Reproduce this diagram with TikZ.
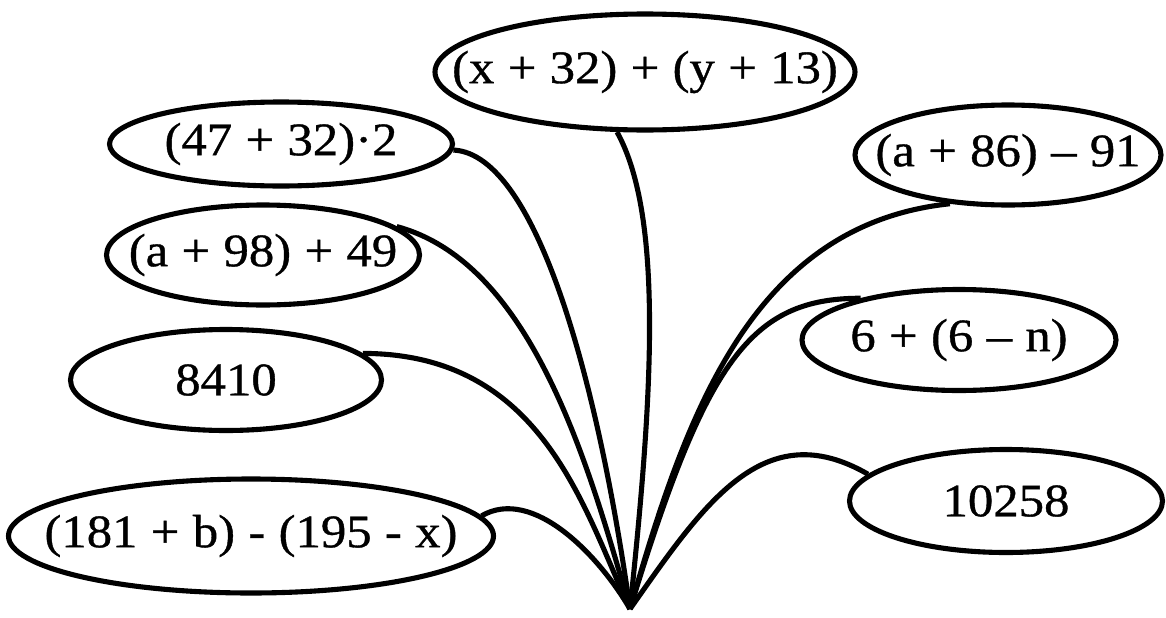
\documentclass[tikz,border=0pt]{standalone}
\usepackage{fontspec}
\setmainfont{Liberation Serif}[FakeStretch=1.09, WordSpace=1.05, FakeBold=0.8]
\usepackage{tikz}
\usetikzlibrary{shapes.geometric}

% text is allowed to run over the oval, as in the drawing
\newcommand{\ovtxt}[1]{\hbox to 0pt{\hss#1\hss}}

\begin{document}
\begin{tikzpicture}[
  font=\fontsize{26.5}{30}\selectfont,
  oval/.style={ellipse, draw, line width=2.9pt, inner sep=0pt},
  link/.style={line width=2.9pt}]
  \useasboundingbox (0,0) rectangle (23.32,12.34);
  \node[oval, minimum width=8.40cm, minimum height=2.32cm] (xy) at (12.90,10.90) {\ovtxt{(x + 32) + (y + 13)}};
  \node[oval, minimum width=6.86cm, minimum height=1.68cm] (mul) at (5.62,9.46) {\ovtxt{(47 + 32)·2}};
  \node[oval, minimum width=6.26cm, minimum height=2.00cm] (a98) at (5.26,7.24) {\ovtxt{(a + 98) + 49}};
  \node[oval, minimum width=6.22cm, minimum height=2.02cm] (n8410) at (4.52,4.74) {\ovtxt{8410}};
  \node[oval, minimum width=9.70cm, minimum height=2.28cm] (b181) at (5.02,1.62) {\ovtxt{(181 + b) - (195 - x)}};
  \node[oval, minimum width=6.12cm, minimum height=2.00cm] (a86) at (20.16,9.24) {\ovtxt{(a + 86) – 91}};
  \node[oval, minimum width=6.28cm, minimum height=2.02cm] (six) at (19.18,5.54) {\ovtxt{6 + (6 – n)}};
  \node[oval, minimum width=6.26cm, minimum height=2.06cm] (n10258) at (20.12,2.32) {\ovtxt{10258}};
  \coordinate (tip) at (12.60,0.16);
  \draw[link] (mul.-2) to[out=-3, in=98, out distance=1.7cm, in distance=4.4cm] (tip);
  \draw[link] (xy.245) to[out=-61, in=84, out distance=2cm, in distance=4cm] (tip);
  \draw[link] (a98.12) to[out=-15, in=106, out distance=2.8cm, in distance=3cm] (tip);
  \draw[link] (n8410.11) to[out=0, in=115, out distance=3.6cm, in distance=2.2cm] (tip);
  \draw[link] (b181.5) to[out=30, in=120, out distance=1.2cm, in distance=1.2cm] (tip);
  \draw[link] (a86.220) to[out=186, in=74, out distance=4cm, in distance=4cm] (tip);
  \draw[link] (six.157) to[out=180, in=73, out distance=2.2cm, in distance=5.2cm] (tip);
  \draw[link] (n10258.169) to[out=150, in=55, out distance=2.4cm, in distance=2.6cm] (tip);
\end{tikzpicture}
\end{document}
